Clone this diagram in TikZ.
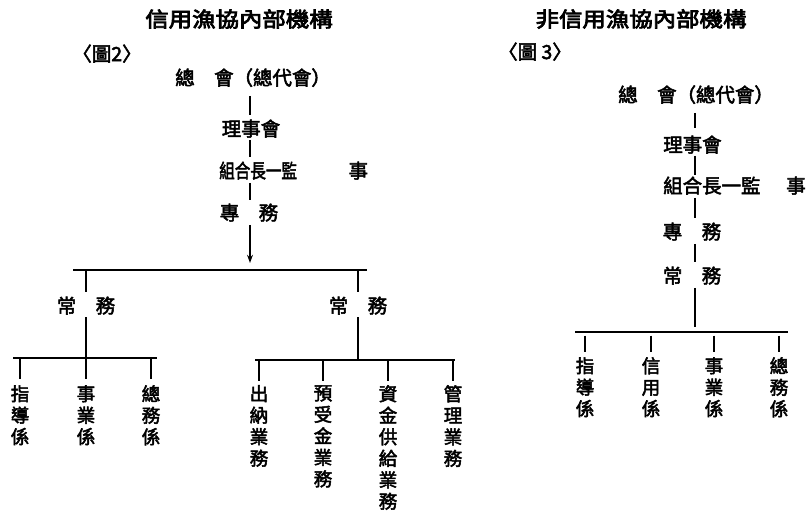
\documentclass[tikz,border=0pt]{standalone}
\usepackage{fontspec}
\usepackage{graphicx}
\usetikzlibrary{arrows.meta}
\newfontfamily\cjk[FakeBold=2.6]{Noto Sans CJK TC}
\newfontfamily\cjkt[FakeBold=3.5]{Noto Sans CJK TC}
\begin{document}
\begin{tikzpicture}[x=0.03cm,y=-0.03cm,
  lbl/.style={font=\cjk\fontsize{16.6pt}{19pt}\selectfont, inner sep=0pt, text height=14pt, text depth=2pt},
  vlbl/.style={font=\cjk\fontsize{15.8pt}{18.35pt}\selectfont, inner sep=0pt, align=center, anchor=north},
  ttl/.style={font=\cjkt\fontsize{20pt}{22pt}\selectfont, inner sep=0pt},
  ln/.style={line width=1.6pt, line cap=butt},
  arr/.style={ln, -{Stealth[length=7pt,width=5pt]}},
]
\useasboundingbox (0,0) rectangle (811,513);
\fill[white] (0,0) rectangle (811,513);

% ---------- left panel ----------
\node[ttl] (T1) at (239,19) {\scalebox{1}[0.88]{信用漁協內部機構}};
\node[lbl] (F2) at (107,54) {〈圖2〉};
\node[lbl,anchor=west] (G1) at (175,78) {總　會（總代會）};
\node[lbl] (R1) at (251,129) {理事會};
\node[lbl,anchor=west] (K1) at (219,171) {\scalebox{0.8}[1]{組合長一監}\hspace{44pt}事};
\node[lbl] (Z1) at (249,213) {專　務};
\coordinate (sp1) at (250,0);
\coordinate (a1) at (250,263);
\draw[ln,shorten <=7pt,shorten >=4pt] (G1.south -| sp1) -- (R1.north -| sp1);
\draw[ln,shorten <=1pt,shorten >=4pt] (R1.south -| sp1) -- (K1.north -| sp1);
\draw[ln,shorten <=2pt,shorten >=3pt] (K1.south -| sp1) -- (Z1.north -| sp1);
\draw[arr,shorten <=2pt] (Z1.south -| sp1) -- (a1);

\coordinate (b1w) at (73,270);
\coordinate (b1e) at (367,270);
\draw[ln] (b1w) -- (b1e);
\node[lbl] (C1) at (86,306) {常　務};
\node[lbl] (C2) at (358,306) {常　務};
\draw[ln,shorten >=4pt] (C1.north |- b1w) -- (C1.north);
\draw[ln,shorten >=4pt] (C2.north |- b1w) -- (C2.north);

% left sub-branch
\coordinate (b2w) at (13,358);
\coordinate (b2e) at (157,358);
\draw[ln,shorten <=1.5pt] (C1.south) -- (C1.south |- b2w);
\draw[ln] (b2w) -- (b2e);
\node[vlbl] (L1) at (20,385) {指\\導\\係};
\node[vlbl] (L2) at (86,385) {事\\業\\係};
\node[vlbl] (L3) at (151,385) {總\\務\\係};
\foreach \n in {L1,L2,L3}
  \draw[ln,shorten >=5pt] (\n.north |- b2w) -- (\n.north);

% right sub-branch
\coordinate (b3w) at (255,360);
\coordinate (b3e) at (455,360);
\draw[ln,shorten <=1.5pt] (C2.south) -- (C2.south |- b3w);
\draw[ln] (b3w) -- (b3e);
\node[vlbl] (M1) at (259,385) {出\\納\\業\\務};
\node[vlbl] (M2) at (323,385) {預\\受\\金\\業\\務};
\node[vlbl] (M3) at (388,385) {資\\金\\供\\給\\業\\務};
\node[vlbl] (M4) at (453,385) {管\\理\\業\\務};
\foreach \n in {M1,M2,M3,M4}
  \draw[ln,shorten >=3pt] (\n.north |- b3w) -- (\n.north);

% ---------- right panel ----------
\node[ttl] (T2) at (641,19) {\scalebox{1}[0.88]{非信用漁協內部機構}};
\node[lbl] (F3) at (535,52) {〈圖 3〉};
\node[lbl,anchor=west] (G2) at (618,95) {總　會（總代會）};
\node[lbl,anchor=west] (R2) at (663,145) {理事會};
\node[lbl,anchor=west] (K2) at (663,186) {組合長一監\hspace{22pt}事};
\node[lbl] (Z2) at (692,232) {專　務};
\node[lbl] (C3) at (692,276) {常　務};
\coordinate (sp2) at (695,0);
\draw[ln,shorten <=7pt,shorten >=6pt] (G2.south -| sp2) -- (R2.north -| sp2);
\draw[ln,shorten <=1pt,shorten >=1pt] (R2.south -| sp2) -- (K2.north -| sp2);
\draw[ln,shorten <=2pt,shorten >=4pt] (K2.south -| sp2) -- (Z2.north -| sp2);
\draw[ln,shorten <=2pt,shorten >=4pt] (Z2.south -| sp2) -- (C3.north -| sp2);

\coordinate (b4w) at (575,332);
\coordinate (b4e) at (788,332);
\draw[ln,shorten <=2pt,shorten >=4pt] (C3.south -| sp2) -- (b4w -| sp2);
\draw[ln] (b4w) -- (b4e);
\node[vlbl] (N1) at (585,357) {指\\導\\係};
\node[vlbl] (N2) at (651,357) {信\\用\\係};
\node[vlbl] (N3) at (714,357) {事\\業\\係};
\node[vlbl] (N4) at (779,357) {總\\務\\係};
\foreach \n in {N1,N2,N3,N4}
  \draw[ln,shorten <=3pt,shorten >=4pt] (\n.north |- b4w) -- (\n.north);
\end{tikzpicture}
\end{document}
